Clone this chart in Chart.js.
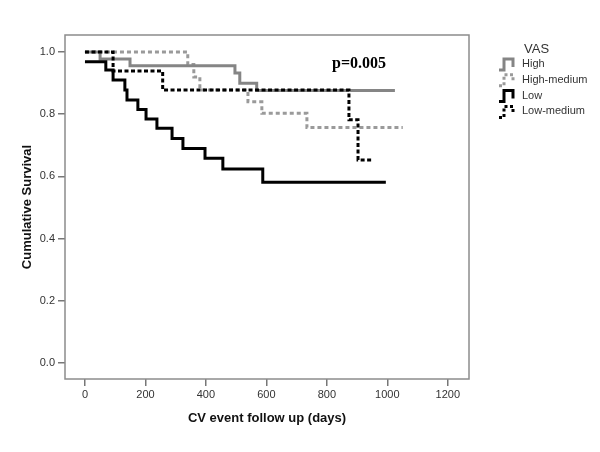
<!DOCTYPE html>
<html>
<head>
<meta charset="utf-8">
<script src="https://cdn.jsdelivr.net/npm/chart.js@4/dist/chart.umd.min.js"></script>
<style>
    html, body { margin: 0; padding: 0; background: #fff; }
    #wrap { width: 600px; height: 452px; }
</style>
</head>
<body>
<div id="wrap"><canvas id="chart" width="600" height="452"></canvas></div>
<script>
// tick labels
const xTicks = [0, 200, 400, 600, 800, 1000, 1200];
const yTicks = [0.0, 0.2, 0.4, 0.6, 0.8, 1.0];
const groups = ['High', 'High-medium', 'Low', 'Low-medium'];
const pText = 'p=0.005';

// Kaplan-Meier steps: day of event and survival after it (last entry = end of follow up)
const highDays = [0, 50, 149, 496, 512, 568, 1025];
const highSurv = [1.0, 0.978, 0.956, 0.933, 0.90, 0.876, 0.876];

const highMedDays = [0, 340, 360, 380, 539, 585, 734, 1051];
const highMedSurv = [1.0, 0.96, 0.92, 0.878, 0.84, 0.803, 0.757, 0.757];

const lowDays = [0, 69, 93, 132, 139, 175, 202, 238, 288, 324, 397, 456, 588, 995];
const lowSurv = [0.969, 0.942, 0.910, 0.878, 0.846, 0.815, 0.785, 0.755, 0.722, 0.690, 0.658, 0.624, 0.581, 0.581];

const lowMedDays = [0, 93, 257, 873, 903, 952];
const lowMedSurv = [1.0, 0.939, 0.878, 0.782, 0.653, 0.653];

const pts = (days, surv) => days.map((d, i) => ({ x: d, y: surv[i] }));

const styles = {
    'High':        { color: '#858585', dash: [] },
    'High-medium': { color: '#9a9a9a', dash: [4, 3] },
    'Low':         { color: '#000000', dash: [] },
    'Low-medium':  { color: '#000000', dash: [4, 2.5] }
};

function lineSet(name, days, surv) {
    const s = styles[name];
    return {
        label: name,
        data: pts(days, surv),
        borderColor: s.color,
        borderDash: s.dash,
        borderWidth: 3,
        borderCapStyle: 'butt',
        stepped: true,
        pointRadius: 0,
        fill: false
    };
}

const framePlugin = {
    id: 'frame',
    afterDraw(chart) {
        const { ctx, chartArea: a } = chart;
        ctx.save();
        ctx.strokeStyle = '#8c8c8c';
        ctx.lineWidth = 1.5;
        ctx.strokeRect(a.left, a.top, a.right - a.left, a.bottom - a.top);

        // p value
        ctx.fillStyle = '#000';
        ctx.font = 'bold 16px "Liberation Serif", "Times New Roman", serif';
        ctx.textBaseline = 'middle';
        ctx.textAlign = 'left';
        ctx.fillText(pText, 332, 64);

        // legend
        ctx.font = '13px "Liberation Sans", Arial, sans-serif';
        ctx.fillStyle = '#333';
        ctx.fillText('VAS', 524, 49);
        ctx.font = '11px "Liberation Sans", Arial, sans-serif';
        groups.forEach((g, i) => {
            const cy = 64 + i * 15.8;
            const s = styles[g];
            const x = 499;
            ctx.beginPath();
            ctx.moveTo(x, cy + 6);
            ctx.lineTo(x + 5, cy + 6);
            ctx.lineTo(x + 5, cy - 5);
            ctx.lineTo(x + 14, cy - 5);
            ctx.lineTo(x + 14, cy + 3);
            ctx.strokeStyle = s.color;
            ctx.lineWidth = 3;
            ctx.setLineDash(s.dash.length ? [3, 2.5] : []);
            ctx.stroke();
            ctx.setLineDash([]);
            ctx.fillStyle = '#333';
            ctx.fillText(g, 522, cy);
        });
        ctx.restore();
    }
};

const tickFont = { family: '"Liberation Sans", Arial, sans-serif', size: 11 };
const titleFont = { family: '"Liberation Sans", Arial, sans-serif', size: 13, weight: 'bold' };

new Chart(document.getElementById('chart').getContext('2d'), {
    type: 'line',
    data: {
        datasets: [
            lineSet('Low-medium', lowMedDays, lowMedSurv),
            lineSet('Low', lowDays, lowSurv),
            lineSet('High', highDays, highSurv),
            lineSet('High-medium', highMedDays, highMedSurv)
        ]
    },
    options: {
        responsive: false,
        animation: false,
        layout: { padding: { top: 35, right: 131, left: 0, bottom: 0 } },
        plugins: { legend: { display: false }, tooltip: { enabled: false } },
        scales: {
            x: {
                type: 'linear',
                min: -66,
                max: 1270,
                afterBuildTicks: s => { s.ticks = xTicks.map(v => ({ value: v })); },
                afterFit: s => { s.height = 73; },
                ticks: { font: tickFont, color: '#333', padding: 2, maxRotation: 0, callback: v => String(v) },
                grid: { drawOnChartArea: false, tickLength: 7, color: '#777', lineWidth: 1.5 },
                border: { display: false },
                title: { display: true, text: 'CV event follow up (days)', font: titleFont, color: '#111', padding: { top: 4, bottom: 26 } }
            },
            y: {
                type: 'linear',
                min: -0.052,
                max: 1.055,
                afterBuildTicks: s => { s.ticks = yTicks.map(v => ({ value: v })); },
                afterFit: s => { s.width = 65; },
                ticks: { font: tickFont, color: '#333', padding: 3, callback: v => v.toFixed(1) },
                grid: { drawOnChartArea: false, tickLength: 7, color: '#777', lineWidth: 1.5 },
                border: { display: false },
                title: { display: true, text: 'Cumulative Survival', font: titleFont, color: '#111', padding: { top: 20, bottom: 0 } }
            }
        }
    },
    plugins: [framePlugin]
});
</script>
</body>
</html>
